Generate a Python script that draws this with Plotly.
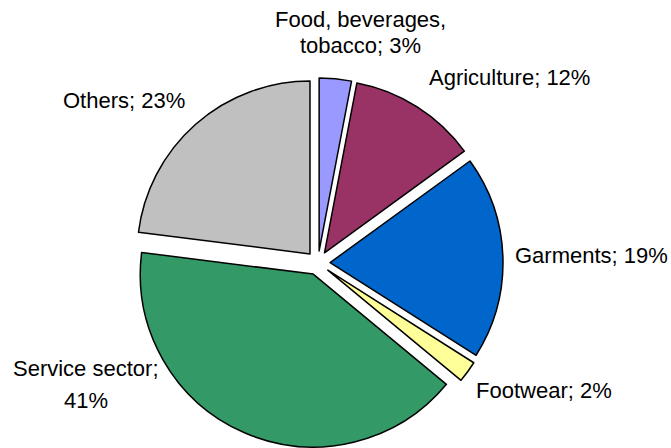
import plotly.graph_objects as go

categories = ["Food, beverages, tobacco", "Agriculture", "Garments", "Footwear", "Service sector", "Others"]
values = [3, 12, 19, 2, 41, 23]
colors = ["#9999FF", "#993366", "#0066CC", "#FFFF99", "#339966", "#C0C0C0"]

# label lines (text) with their pixel centres
label_lines = [
    ("Food, beverages,", 360, 19),
    ("tobacco; 3%", 360, 45),
    ("Agriculture; 12%", 509, 78),
    ("Others; 23%", 124, 100),
    ("Garments; 19%", 591, 255),
    ("Footwear; 2%", 544, 390),
    ("Service sector;", 86, 368),
    ("41%", 86, 400),
]

W, H = 671, 448

fig = go.Figure(go.Pie(
    labels=categories,
    values=values,
    marker=dict(colors=colors, line=dict(color="black", width=1.5)),
    sort=False,
    direction="clockwise",
    rotation=0,
    pull=[0.07] * len(values),
    textinfo="none",
    hoverinfo="label+percent",
    domain=dict(x=[133 / W, 503 / W], y=[0, 370 / H]),
    showlegend=False,
))

for text, px, py in label_lines:
    fig.add_annotation(
        text=text, x=px / W, y=1 - py / H, xref="paper", yref="paper",
        showarrow=False, xanchor="center", yanchor="middle",
        font=dict(family="Liberation Sans, Arial", size=22, color="black"),
    )

fig.update_layout(
    width=W, height=H,
    margin=dict(l=0, r=0, t=0, b=0),
    paper_bgcolor="white", plot_bgcolor="white",
)

fig.write_html(
    "out.html",
    config={"displayModeBar": False},
    post_script="document.body.style.margin='0';document.body.style.overflow='hidden';",
)
